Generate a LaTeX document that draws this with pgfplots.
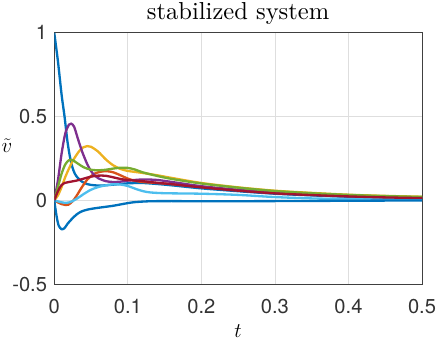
\documentclass[border=0pt]{standalone}
\usepackage{fontspec}
\usepackage{pgfplots}
\pgfplotsset{compat=1.18}
\newfontfamily\helv{TeX Gyre Heros}
\newfontfamily\lmten{lmroman10-regular.otf}
\definecolor{mB}{RGB}{0,114,189}
\definecolor{mO}{RGB}{217,83,25}
\definecolor{mY}{RGB}{237,177,32}
\definecolor{mP}{RGB}{126,47,142}
\definecolor{mG}{RGB}{119,172,48}
\definecolor{mL}{RGB}{77,190,238}
\definecolor{mR}{RGB}{162,20,47}
\definecolor{axc}{RGB}{64,64,64}
\begin{document}
\begin{tikzpicture}
\begin{axis}[
  scale only axis,
  width=365.7pt, height=250pt,
  xmin=0, xmax=0.5, ymin=-0.5, ymax=1,
  xtick={0,0.1,0.2,0.3,0.4,0.5},
  xticklabels={0,0.1,0.2,0.3,0.4,0.5},
  ytick={-0.5,0,0.5,1},
  yticklabels={-0.5,0,0.5,1},
  major tick length=0pt,
  ticklabel style={font=\helv\fontsize{20}{24}\selectfont, text=axc!80!black, inner sep=0pt},
  xticklabel style={anchor=north, yshift=-15pt},
  yticklabel style={anchor=east, xshift=-7pt},
  grid=major,
  grid style={color=black!13, line width=0.8pt},
  axis line style={color=axc, line width=0.9pt},
  title={stabilized system},
  title style={font=\lmten\fontsize{24.4}{28}\selectfont, at={(axis description cs:0.5,1)}, anchor=base, yshift=7.7pt, inner sep=2pt},
  xlabel={$t$},
  xlabel style={at={(axis description cs:0.5,0)}, anchor=base, yshift=-53pt, inner sep=3pt, font=\fontsize{22}{26}\selectfont},
  ylabel={$\tilde{v}$},
  ylabel style={rotate=-90, at={(axis description cs:-0.129,0.552)}, anchor=center, inner sep=1.5pt, font=\fontsize{22}{26}\selectfont},
  every axis plot/.append style={line width=2.3pt, smooth, tension=0.5},
]
% blue (decay from 1)
\addplot[mB] coordinates {(0,1.0) (0.005,0.83) (0.01,0.63) (0.014,0.5) (0.018,0.35) (0.022,0.245) (0.026,0.18) (0.03,0.145) (0.037,0.114) (0.045,0.097) (0.055,0.09) (0.065,0.089) (0.08,0.094) (0.1,0.102) (0.12,0.104) (0.14,0.098) (0.16,0.09) (0.2,0.072) (0.25,0.055) (0.3,0.04) (0.35,0.03) (0.4,0.022) (0.45,0.016) (0.5,0.012)};
% orange
\addplot[mO] coordinates {(0,0) (0.005,-0.012) (0.01,-0.022) (0.015,-0.027) (0.019,-0.026) (0.025,-0.005) (0.03,0.025) (0.037,0.075) (0.045,0.125) (0.053,0.155) (0.06,0.168) (0.07,0.175) (0.08,0.168) (0.09,0.15) (0.1,0.13) (0.11,0.117) (0.12,0.11) (0.14,0.104) (0.16,0.097) (0.2,0.08) (0.25,0.062) (0.3,0.046) (0.35,0.035) (0.4,0.026) (0.45,0.019) (0.5,0.014)};
% yellow
\addplot[mY] coordinates {(0,0) (0.005,0.03) (0.01,0.08) (0.015,0.14) (0.02,0.19) (0.025,0.235) (0.03,0.27) (0.035,0.3) (0.04,0.318) (0.045,0.324) (0.05,0.32) (0.06,0.29) (0.07,0.245) (0.08,0.21) (0.09,0.188) (0.1,0.176) (0.12,0.164) (0.14,0.15) (0.16,0.134) (0.2,0.104) (0.25,0.078) (0.3,0.058) (0.35,0.045) (0.4,0.034) (0.45,0.027) (0.5,0.022)};
% purple
\addplot[mP] coordinates {(0,0) (0.005,0.12) (0.01,0.28) (0.015,0.4) (0.02,0.452) (0.023,0.458) (0.027,0.44) (0.032,0.37) (0.038,0.29) (0.045,0.215) (0.05,0.175) (0.055,0.148) (0.06,0.132) (0.07,0.115) (0.08,0.11) (0.09,0.112) (0.1,0.118) (0.12,0.125) (0.14,0.122) (0.16,0.11) (0.2,0.085) (0.25,0.063) (0.3,0.046) (0.35,0.034) (0.4,0.025) (0.45,0.019) (0.5,0.014)};
% green
\addplot[mG] coordinates {(0,0) (0.005,0.08) (0.01,0.16) (0.015,0.215) (0.02,0.24) (0.025,0.24) (0.03,0.226) (0.04,0.198) (0.05,0.183) (0.06,0.18) (0.07,0.183) (0.08,0.19) (0.09,0.195) (0.1,0.194) (0.11,0.184) (0.12,0.168) (0.14,0.146) (0.16,0.128) (0.2,0.101) (0.25,0.076) (0.3,0.056) (0.35,0.043) (0.4,0.033) (0.45,0.026) (0.5,0.021)};
% light blue
\addplot[mL] coordinates {(0,0) (0.007,-0.008) (0.014,-0.014) (0.02,-0.012) (0.025,-0.004) (0.032,0.014) (0.04,0.038) (0.05,0.064) (0.06,0.08) (0.07,0.09) (0.08,0.096) (0.09,0.095) (0.1,0.086) (0.11,0.07) (0.12,0.056) (0.13,0.048) (0.15,0.043) (0.2,0.04) (0.25,0.033) (0.3,0.02) (0.35,0.012) (0.4,0.008) (0.45,0.005) (0.5,0.004)};
% dark red
\addplot[mR] coordinates {(0,0) (0.005,0.055) (0.01,0.092) (0.015,0.105) (0.02,0.11) (0.03,0.118) (0.04,0.13) (0.05,0.142) (0.06,0.148) (0.07,0.147) (0.08,0.138) (0.09,0.128) (0.1,0.122) (0.12,0.115) (0.14,0.105) (0.16,0.097) (0.2,0.078) (0.25,0.058) (0.3,0.042) (0.35,0.032) (0.4,0.024) (0.45,0.018) (0.5,0.014)};
% blue (dip)
\addplot[mB] coordinates {(0,0) (0.003,-0.09) (0.006,-0.15) (0.01,-0.172) (0.014,-0.165) (0.018,-0.14) (0.023,-0.115) (0.03,-0.085) (0.037,-0.066) (0.045,-0.055) (0.055,-0.047) (0.07,-0.038) (0.08,-0.032) (0.09,-0.024) (0.1,-0.016) (0.11,-0.01) (0.13,-0.005) (0.16,-0.004) (0.2,-0.005) (0.3,-0.004) (0.4,-0.002) (0.5,0)};
\end{axis}
\end{tikzpicture}
\end{document}
